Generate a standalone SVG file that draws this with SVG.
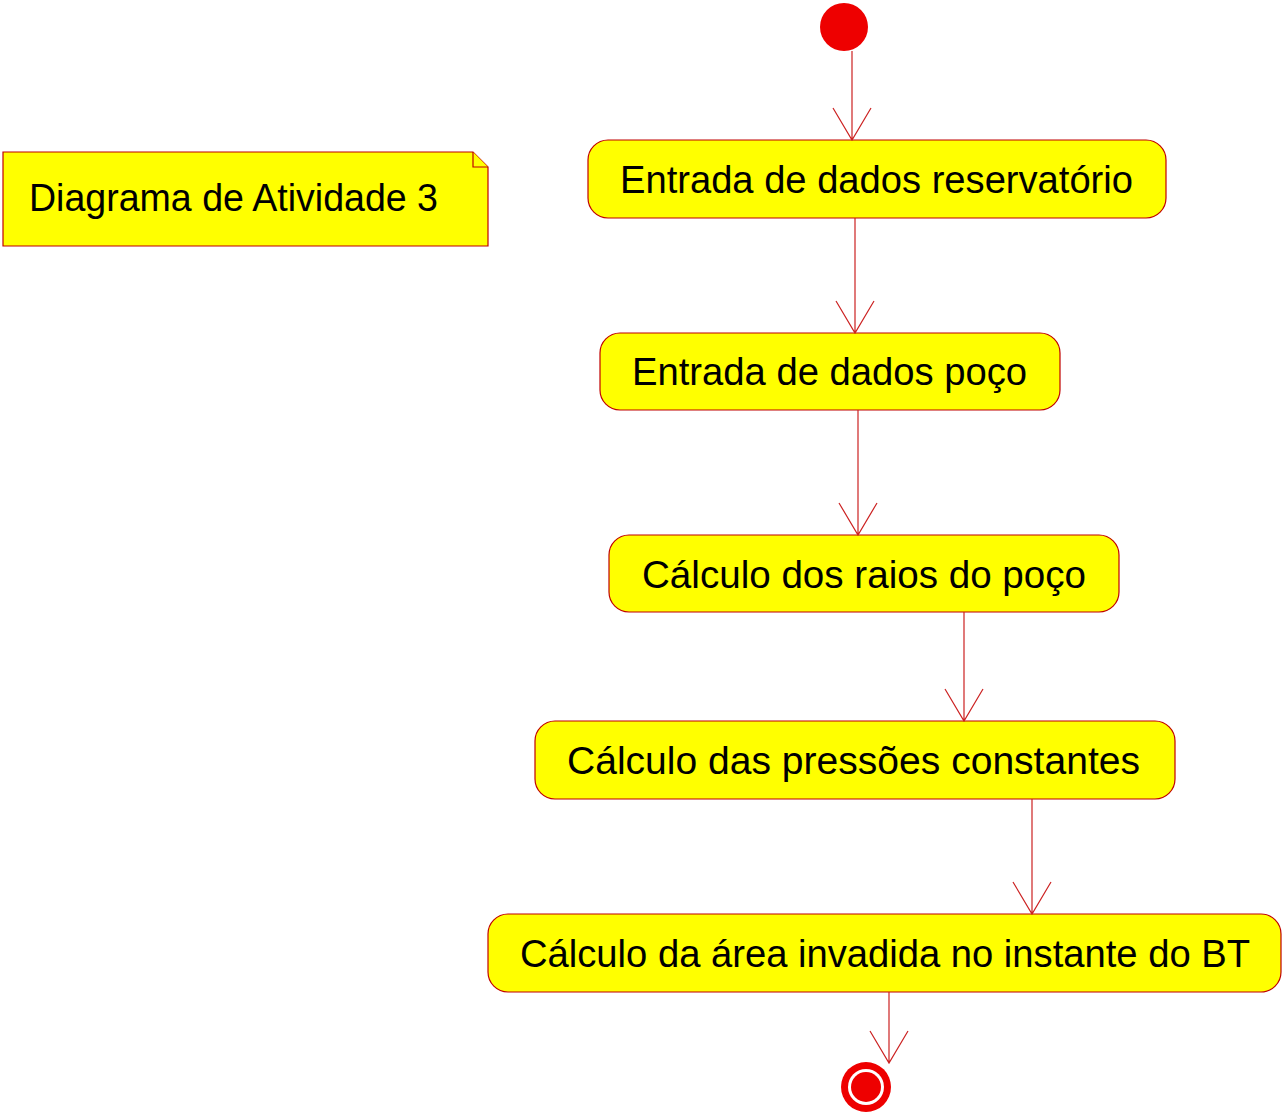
<svg xmlns="http://www.w3.org/2000/svg" width="1284" height="1113" viewBox="0 0 1284 1113">
<style>
.box{fill:#FFFF00;stroke:#C00000;stroke-width:1.2}
.lbl{font-family:"Liberation Sans",Arial,sans-serif;font-size:38px;fill:#000}
.edge{stroke:#CC2222;stroke-width:1.2;fill:none}
</style>
<rect width="1284" height="1113" fill="#fff"/>
<g id="note">
<path class="box" d="M3,152 H473 L488,167 V246 H3 Z"/>
<path class="box" d="M473,152 V167 H488"/>
<text class="lbl" x="29" y="211" textLength="409" lengthAdjust="spacingAndGlyphs">Diagrama de Atividade 3</text>
</g>
<g id="start"><circle cx="844" cy="27" r="24" fill="#EE0000"/></g>
<g id="n1"><rect class="box" x="588" y="140" width="578" height="78" rx="20"/>
<text class="lbl" x="620" y="193" textLength="513" lengthAdjust="spacingAndGlyphs">Entrada de dados reservatório</text></g>
<g id="n2"><rect class="box" x="600" y="333" width="460" height="77" rx="20"/>
<text class="lbl" x="632" y="385" textLength="395" lengthAdjust="spacingAndGlyphs">Entrada de dados poço</text></g>
<g id="n3"><rect class="box" x="609" y="535" width="510" height="77" rx="20"/>
<text class="lbl" x="642" y="588" textLength="444" lengthAdjust="spacingAndGlyphs">Cálculo dos raios do poço</text></g>
<g id="n4"><rect class="box" x="535" y="721" width="640" height="78" rx="20"/>
<text class="lbl" x="567" y="774" textLength="573" lengthAdjust="spacingAndGlyphs">Cálculo das pressões constantes</text></g>
<g id="n5"><rect class="box" x="488" y="914" width="793" height="78" rx="20"/>
<text class="lbl" x="520" y="967" textLength="730" lengthAdjust="spacingAndGlyphs">Cálculo da área invadida no instante do BT</text></g>
<g id="end"><circle cx="866" cy="1087" r="25" fill="#EE0000"/><circle cx="866" cy="1087" r="18" fill="#fff"/><circle cx="866" cy="1087" r="15" fill="#EE0000"/></g>
<g id="connectors">
<path class="edge" d="M852,51 V140 M833,108 L852,140 L871,108"/>
<path class="edge" d="M855,218 V333 M836,301 L855,333 L874,301"/>
<path class="edge" d="M858,410 V535 M839,503 L858,535 L877,503"/>
<path class="edge" d="M964,612 V721 M945,689 L964,721 L983,689"/>
<path class="edge" d="M1032,799 V914 M1013,882 L1032,914 L1051,882"/>
<path class="edge" d="M889,992 V1063 M870,1031 L889,1063 L908,1031"/>
</g>
</svg>
